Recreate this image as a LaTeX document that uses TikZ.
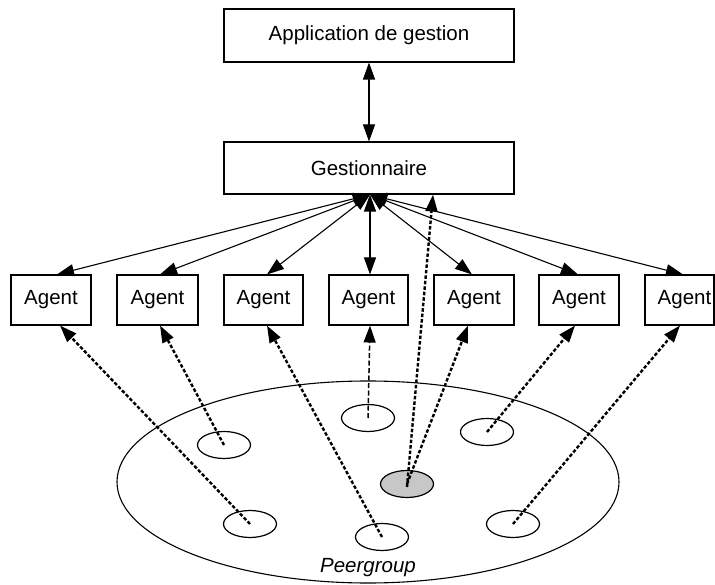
\documentclass[tikz,border=0pt]{standalone}
\usepackage{fontspec}
\setmainfont{Liberation Sans}
\usetikzlibrary{arrows.meta,shapes.geometric}
\begin{document}
\begin{tikzpicture}[x=1pt,y=-1pt,
  every node/.style={font=\fontsize{20.5}{24}\selectfont},
  box/.style={draw,line width=1.1pt,inner sep=0pt},
  agentbox/.style={box,minimum width=80pt,minimum height=50pt},
  peer/.style={ellipse,draw,line width=1.2pt,inner sep=0pt,minimum width=53pt,minimum height=27pt},
  link/.style={line width=1.1pt,{Triangle[length=17pt,width=12pt]}-{Triangle[length=17pt,width=12pt]}},
  dlink/.style={line width=2.4pt,dash pattern=on 3.5pt off 2pt,-{Triangle[length=17pt,width=12pt]}},
  dlinkthin/.style={line width=1.5pt,dash pattern=on 5pt off 2.5pt,-{Triangle[length=17pt,width=12pt]}}
]
\useasboundingbox (0,0) rectangle (715,585);
% boxes
\node[box,minimum width=290pt,minimum height=53pt] (app) at (369,35.5) {Application de gestion};
\node[box,minimum width=290pt,minimum height=52pt] (g) at (369,168) {Gestionnaire};
\node[agentbox] (a1) at (51,300) {Agent};
\node[agentbox,minimum width=81pt] (a2) at (157.5,300) {Agent};
\node[agentbox,minimum width=79pt] (a3) at (263.5,300) {Agent};
\node[agentbox,minimum width=79pt] (a4) at (368.5,300) {Agent};
\node[agentbox] (a5) at (474,300) {Agent};
\node[agentbox] (a6) at (579,300) {Agent};
\node[agentbox,minimum width=69pt] (a7) at (679.5,300) {\hspace*{10pt}Agent};
% peergroup
\node[ellipse,draw,line width=1.1pt,inner sep=0pt,minimum width=502pt,minimum height=202pt] (pg) at (368,482) {};
\node[font=\fontsize{20.5}{24}\selectfont\itshape] (pgl) at (368,568) {Peergroup};
\node[peer] (e1) at (224,445) {};
\node[peer] (e2) at (368,418) {};
\node[peer] (e3) at (487,432) {};
\node[peer,fill=black!22] (eg) at (407,484) {};
\node[peer] (e4) at (250,524) {};
\node[peer] (e5) at (382,537) {};
\node[peer] (e6) at (513,524) {};
% app <-> gestionnaire
\draw[link] (app.south) -- (g.south |- g.north);
% gestionnaire <-> agents
\coordinate (gs) at ([xshift=1pt]g.south);
\draw[link] (gs) -- ([xshift=6pt]a1.north);
\draw[link] (gs) -- ([xshift=2.5pt]a2.north);
\draw[link] (gs) -- ([xshift=3.5pt]a3.north);
\draw[link] (gs) -- ([xshift=1.5pt]a4.north);
\draw[link] (gs) -- ([xshift=-2pt]a5.north);
\draw[link] (gs) -- ([xshift=-1pt]a6.north);
\draw[link] (gs) -- ([xshift=3.5pt]a7.north);
% peers -> agents
\draw[dlink] (e4.center) -- ([xshift=9pt]a1.south);
\draw[dlink] (e1.center) -- ([xshift=2.5pt]a2.south);
\draw[dlink] (e5.center) -- ([xshift=3.5pt]a3.south);
\draw[dlinkthin] (e2.center) -- ([xshift=1.5pt]a4.south);
\draw[dlink] (eg.center) -- ([xshift=-6pt]a5.south);
\draw[dlink] ([yshift=-3pt]eg.center) -- ([xshift=64pt]g.south);
\draw[dlink] (e3.center) -- ([xshift=-4pt]a6.south);
\draw[dlink] (e6.center) -- ([xshift=0.5pt]a7.south);
\end{tikzpicture}
\end{document}
